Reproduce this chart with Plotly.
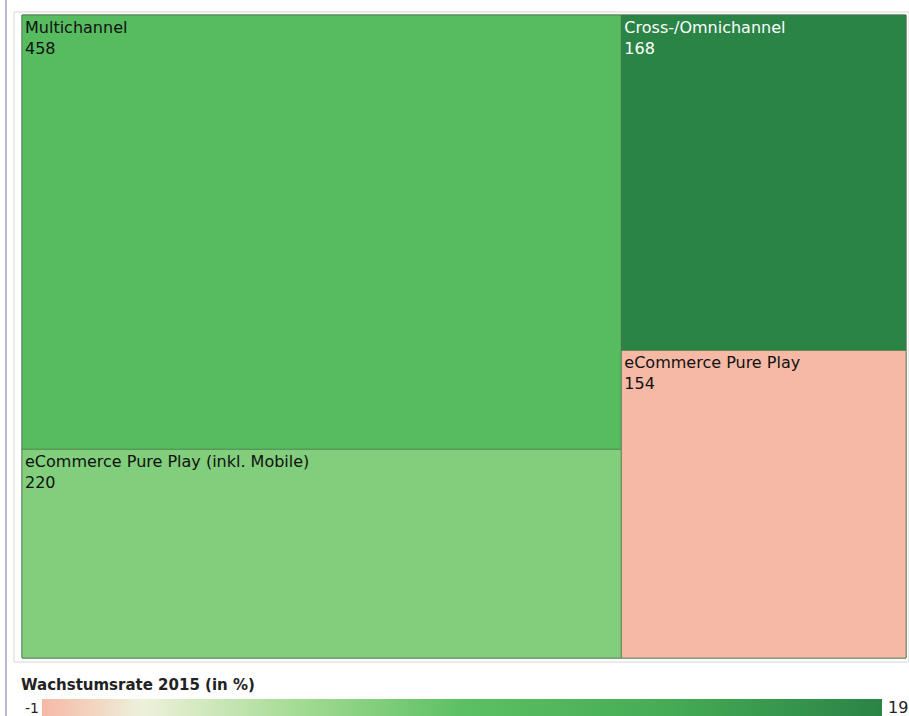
import plotly.graph_objects as go

# ---- data ----
categories = ["Multichannel", "eCommerce Pure Play (inkl. Mobile)",
              "Cross-/Omnichannel", "eCommerce Pure Play"]
values = [458, 220, 168, 154]
growth = [10, 7, 19, -1]            # Wachstumsrate 2015 (in %)
groups = ["A", "A", "B", "B"]
group_ids = ["A", "B"]
scale_min, scale_max = -1, 19
scale_title = "Wachstumsrate 2015 (in %)"
text_colors = ["#111111", "#111111", "#ffffff", "#111111"]

W, H = 909, 716
FONT = "DejaVu Sans, Arial, sans-serif"

# build hierarchy (groups are hidden containers)
ids = list(group_ids) + [f"{g}/{c}" for g, c in zip(groups, categories)]
labels = [""] * len(group_ids) + categories
parents = [""] * len(group_ids) + groups
vals = [sum(v for v, g in zip(values, groups) if g == gid) for gid in group_ids] + values
cols = [sum(c * v for c, v, g in zip(growth, values, groups) if g == gid) /
        sum(v for v, g in zip(values, groups) if g == gid) for gid in group_ids] + growth
ttemp = [""] * len(group_ids) + ["%{label}<br>%{value}"] * len(categories)
tcols = ["#111111"] * len(group_ids) + text_colors

colorscale = [
    [0.0, "#f6b9a6"],
    [0.12, "#eef1da"],
    [0.30, "#a6dc95"],
    [0.50, "#5cc063"],
    [0.75, "#45ab55"],
    [1.0, "#2a8446"],
]

fig = go.Figure(go.Treemap(
    ids=ids, labels=labels, parents=parents, values=vals,
    branchvalues="total",
    sort=False,
    tiling=dict(packing="slice-dice", pad=0),
    marker=dict(
        colors=cols, colorscale=colorscale, cmin=scale_min, cmax=scale_max,
        pad=dict(t=0, l=0, r=0, b=0),
        line=dict(color="rgba(70,110,70,0.6)", width=1),
        showscale=True,
        colorbar=dict(
            orientation="h", x=42 / W, xanchor="left", len=(882 - 42) / W,
            lenmode="fraction", y=1 - 699 / H, yanchor="top", thickness=17,
            outlinewidth=0, showticklabels=False, ticks="", xpad=0, ypad=0,
        ),
    ),
    texttemplate=ttemp,
    textposition="top left",
    textfont=dict(family=FONT, size=16, color=tcols),
    pathbar=dict(visible=False),
    root=dict(color="white"),
    domain=dict(x=[22 / W, 906 / W], y=[1 - 658 / H, 1 - 15 / H]),
    hoverinfo="label+value",
))

fig.update_layout(
    width=W, height=H,
    margin=dict(l=0, r=0, t=0, b=0),
    paper_bgcolor="white",
    font=dict(family=FONT, size=16, color="#222"),
    shapes=[
        dict(type="rect", xref="paper", yref="paper",
             x0=14 / W, x1=1.0, y0=1 - 662 / H, y1=1 - 12 / H,
             line=dict(color="#d6d6d6", width=1)),
        dict(type="line", xref="paper", yref="paper",
             x0=6 / W, x1=6 / W, y0=0, y1=1,
             line=dict(color="#b9b9d2", width=2)),
    ],
    annotations=[
        dict(text=f"<b>{scale_title}</b>", xref="paper", yref="paper",
             x=19 / W, y=1 - 685 / H, xanchor="left", yanchor="middle",
             showarrow=False, font=dict(family=FONT, size=15, color="#222")),
        dict(text=str(scale_min), xref="paper", yref="paper",
             x=41 / W, y=1 - 708 / H, xanchor="right", yanchor="middle",
             showarrow=False, font=dict(family=FONT, size=14, color="#222")),
        dict(text=str(scale_max), xref="paper", yref="paper",
             x=886 / W, y=1 - 707 / H, xanchor="left", yanchor="middle",
             showarrow=False, font=dict(family=FONT, size=16, color="#222")),
    ],
)

fig.write_html("out.html")
